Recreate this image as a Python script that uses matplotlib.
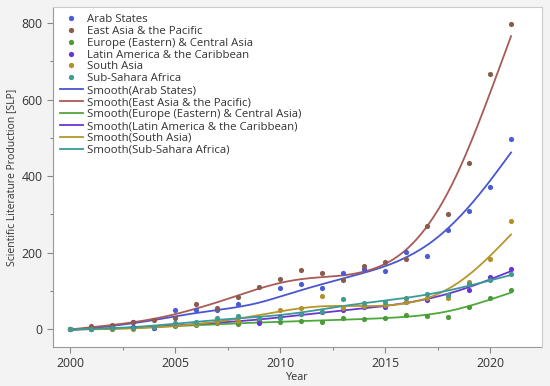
import numpy as np
import matplotlib
matplotlib.use("Agg")
import matplotlib.pyplot as plt
from matplotlib.ticker import MultipleLocator
from matplotlib.lines import Line2D

years = list(range(2000, 2022))

arab_states = [0, 2, 5, 19, 3, 51, 50, 51, 65, 20, 106, 119, 108, 146, 157, 152, 202, 192, 258, 309, 372, 497]
east_asia = [0, 8, 10, 18, 23, 30, 65, 55, 85, 109, 130, 154, 146, 128, 165, 176, 182, 269, 300, 435, 668, 798]
europe = [0, 0, 0, 2, 5, 8, 10, 15, 13, 18, 19, 22, 18, 30, 26, 30, 37, 35, 31, 58, 82, 101]
latin_america = [0, 0, 2, 4, 2, 10, 15, 18, 22, 17, 32, 38, 45, 51, 57, 57, 70, 76, 88, 101, 135, 157]
south_asia = [0, 0, 0, 0, 4, 10, 12, 18, 22, 30, 50, 54, 87, 55, 60, 62, 70, 80, 80, 124, 182, 283]
sub_sahara = [0, 0, 2, 3, 6, 15, 18, 28, 34, 30, 30, 39, 45, 78, 69, 71, 80, 91, 90, 118, 128, 143]

names = ["Arab States", "East Asia & the Pacific", "Europe (Eastern) & Central Asia",
         "Latin America & the Caribbean", "South Asia", "Sub-Sahara Africa"]
series = [arab_states, east_asia, europe, latin_america, south_asia, sub_sahara]
point_colors = ["#4a5bd6", "#8a5a4c", "#4f9a38", "#6a36d2", "#b0912a", "#3f9a92"]
line_colors = ["#4a55d0", "#a85a58", "#4fa83a", "#6a36d2", "#b8962a", "#3a9a98"]


def smoothing_spline(x, y, lam, grid):
    x = np.asarray(x, float)
    y = np.asarray(y, float)
    n = len(x)
    h = np.diff(x)
    Q = np.zeros((n, n - 2))
    R = np.zeros((n - 2, n - 2))
    for j in range(1, n - 1):
        Q[j - 1, j - 1] = 1 / h[j - 1]
        Q[j, j - 1] = -1 / h[j - 1] - 1 / h[j]
        Q[j + 1, j - 1] = 1 / h[j]
        R[j - 1, j - 1] = (h[j - 1] + h[j]) / 3
        if j < n - 2:
            R[j - 1, j] = h[j] / 6
            R[j, j - 1] = h[j] / 6
    gam = np.linalg.solve(R + lam * Q.T @ Q, Q.T @ y)
    g = y - lam * Q @ gam
    gam = np.concatenate([[0], gam, [0]])
    out = np.empty_like(grid, dtype=float)
    for k, t in enumerate(grid):
        i = min(max(np.searchsorted(x, t) - 1, 0), n - 2)
        hi = h[i]
        a = t - x[i]
        b = x[i + 1] - t
        out[k] = (a * g[i + 1] + b * g[i]) / hi - a * b / 6 * (
            (1 + a / hi) * gam[i + 1] + (1 + b / hi) * gam[i])
    return out


plt.rcParams['font.family'] = ['Open Sans', 'DejaVu Sans']
fig = plt.figure(figsize=(5.5, 3.86), dpi=100, facecolor="#f3f3f3")
ax = fig.add_axes([53 / 550, 1 - 347 / 386, (541.5 - 53) / 550, (347 - 7) / 386])
ax.set_facecolor("white")

grid = np.linspace(2000, 2021, 300)
handles_pts = []
handles_lines = []
for nm, s, pc, lc in zip(names, series, point_colors, line_colors):
    ax.scatter(years, s, s=14, color=pc, zorder=3, linewidths=0)
    sm = smoothing_spline(years, s, 5.0, grid)
    ax.plot(grid, sm, color=lc, lw=1.3, zorder=2)
    handles_pts.append(Line2D([], [], ls="none", marker="o", ms=3.8, color=pc, mew=0))
    handles_lines.append(Line2D([], [], color=lc, lw=1.3))

labels = names + ["Smooth(" + n + ")" for n in names]
leg = ax.legend(handles_pts + handles_lines, labels, loc="upper left", frameon=False,
                fontsize=8.2, handlelength=2.0, handletextpad=0.4, labelspacing=0.08,
                borderaxespad=0.2, bbox_to_anchor=(0.0, 1.0), labelcolor="#333333")

ax.set_xlim(1999.19, 2022.45)
ax.set_ylim(-47, 842)
ax.xaxis.set_major_locator(MultipleLocator(5))
ax.xaxis.set_minor_locator(MultipleLocator(2.5))
ax.yaxis.set_major_locator(MultipleLocator(200))
ax.yaxis.set_minor_locator(MultipleLocator(100))
ax.tick_params(which="major", length=4, color="#888888", labelsize=8.8, labelcolor="#333333", width=0.8)
ax.tick_params(which="minor", length=2.5, color="#888888", width=0.8)
for side in ["left", "bottom"]:
    ax.spines[side].set_color("#999999")
for side in ["top", "right"]:
    ax.spines[side].set_color("#cccccc")

ax.set_xlabel("Year", fontsize=7.8, color="#333333", labelpad=1)
ax.set_ylabel("Scientific Literature Production [SLP]", fontsize=7.5, color="#333333", labelpad=3)

fig.savefig("out.png", dpi=100, facecolor=fig.get_facecolor())
